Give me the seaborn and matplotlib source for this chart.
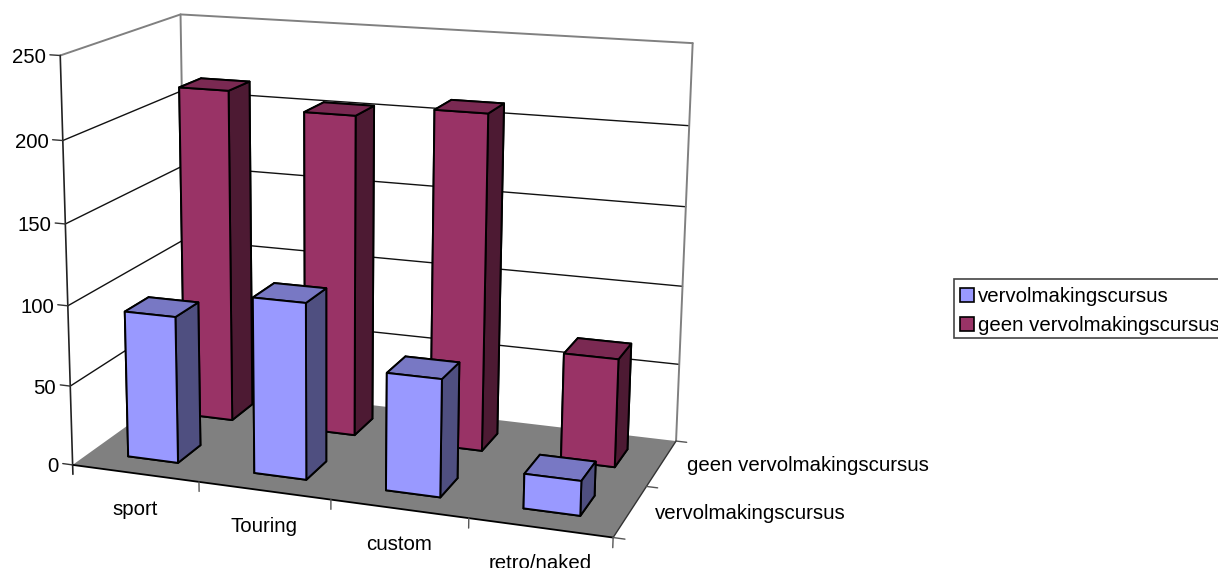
import numpy as np
import seaborn as sns
import matplotlib
matplotlib.use("Agg")
import matplotlib.pyplot as plt
from matplotlib.patches import Patch, Rectangle
from mpl_toolkits.mplot3d.art3d import Poly3DCollection

categories = ["sport", "Touring", "custom", "retro/naked"]
series_names = ["vervolmakingscursus", "geen vervolmakingscursus"]
met_cursus = [92, 109, 72, 21]
geen_cursus = [214, 204, 211, 68]
z_ticks = [0, 50, 100, 150, 200, 250]

W, H = 1218, 568

# camera of the old excel-style chart: box corners (x, y, z) -> where they sit in the picture
calib_world = [(0, 0, 0), (4, 0, 0), (4, 2, 0), (0, 2, 0), (0, 0, 250), (0, 2, 250), (4, 2, 250),
               (1, 0, 0), (2, 0, 0), (3, 0, 0), (0, 0, 100), (4, 2, 50), (4, 1, 0)]
calib_px = [(75, 465), (612, 538), (677, 441), (183, 383), (57, 55), (184, 15), (692, 43),
            (200, 482), (331, 499), (469, 518), (68, 306), (679, 364), (647, 487)]


def fit_camera(world, px):
    rows = []
    for (x, y, z), (u, v) in zip(world, px):
        z = z / 100
        rows.append([x, y, z, 1, 0, 0, 0, 0, -u * x, -u * y, -u * z, -u])
        rows.append([0, 0, 0, 0, x, y, z, 1, -v * x, -v * y, -v * z, -v])
    cam = np.linalg.svd(np.array(rows, float))[2][-1].reshape(3, 4)
    cam[:, 2] /= 100
    return cam / (cam[2] @ [2, 1, 0, 1])


CAM = fit_camera(calib_world, calib_px)


def screen(x, y, z):
    u, v, w = CAM @ [x, y, z, 1]
    return u / w, v / w


sns.set_theme(style="white")
plt.rcParams["font.family"] = ["Liberation Sans", "DejaVu Sans"]
FS = 14.7

fig = plt.figure(figsize=(W / 100, H / 100), dpi=100)
ax = fig.add_axes([0, 0, 1, 1], projection="3d")
ax.set_axis_off()
ax.patch.set_alpha(0)
ax.computed_zorder = False
ax.apply_aspect = lambda position=None: None


def get_proj():
    # picture pixels -> display -> the axes' 2d data coordinates
    du, dv, w = CAM[0], H * CAM[2] - CAM[1], CAM[2]
    a = ax.transData.inverted().get_matrix()
    return np.array([a[0, 0] * du + a[0, 1] * dv + a[0, 2] * w,
                     a[1, 0] * du + a[1, 1] * dv + a[1, 2] * w,
                     [0, 0, 0, -1],
                     w])


ax.get_proj = get_proj

# floor
floor = Poly3DCollection([[(0, 0, 0), (4, 0, 0), (4, 2, 0), (0, 2, 0)]], facecolors="#808080",
                         edgecolors="none", zorder=1)
ax.add_collection3d(floor)

# walls
GRID = "#111111"
FRAME = "#808080"
for z in z_ticks[1:]:
    c = FRAME if z == 250 else GRID
    lw = 1.4 if z == 250 else 1.0
    ax.plot([0, 0, 4], [0, 2, 2], [z, z, z], color=c, lw=lw, zorder=0.5)
ax.plot([0, 0], [2, 2], [0, 250], color=FRAME, lw=1.4, zorder=0.5)
ax.plot([4, 4], [2, 2], [0, 250], color=FRAME, lw=1.4, zorder=0.5)
ax.plot([0, 0], [0, 0], [-6, 250], color="#222222", lw=1.2, zorder=1.5)
ax.plot([0, 4], [0, 0], [0, 0], color="black", lw=1.3, zorder=1.5)
ax.plot([4, 4], [0, 2], [0, 0], color="#333333", lw=1.0, zorder=1.5)

# ticks
for z in z_ticks:
    ax.plot([-0.08, 0], [0, 0], [z, z], color="#333333", lw=1.0, zorder=1.5)
    u, v = screen(0, 0, z)
    fig.text((u - 14) / W, 1 - (v + 2) / H, str(z), ha="right", va="center", fontsize=FS, color="black")
for i in range(1, 5):
    ax.plot([i, i], [0, 0], [0, -6], color="#555555", lw=1.0, zorder=1.5)
for j in range(3):
    ax.plot([4, 4.08], [j, j], [0, 0], color="#555555", lw=1.0, zorder=1.5)

for i, name in enumerate(categories):
    u, v = screen(i + 0.5, 0, 0)
    fig.text(u / W, 1 - (v + 36) / H, name, ha="center", va="center", fontsize=FS, color="black")
for j, name in enumerate(series_names):
    u, v = screen(4, j + 0.5, 0)
    fig.text((u + 25) / W, 1 - (v + 2) / H, name, ha="left", va="center", fontsize=FS, color="black")

# bars: faces are bottom, top, front, back, left, right
pal_met = sns.color_palette(["#9999FF", "#7878C4", "#9999FF", "#9999FF", "#9999FF", "#4F4F80"])
pal_geen = sns.color_palette(["#993366", "#7A2952", "#993366", "#993366", "#993366", "#4D1A33"])
BAR_W = 0.4
for row, (vals, pal) in enumerate([(geen_cursus, pal_geen), (met_cursus, pal_met)]):
    y0 = (1 - row) + 0.3
    for i, val in enumerate(vals):
        ax.bar3d(i + 0.3, y0, 0, BAR_W, BAR_W, val, color=pal, shade=False, edgecolor="black",
                 linewidth=1.4, zorder=2 + row * 10 + i)

# legend frame runs off the right side of the picture
fig.add_artist(Rectangle((954 / W, 1 - 338 / H), 300 / W, 59 / H, transform=fig.transFigure,
                         facecolor="white", edgecolor="#444444", linewidth=1.2))
handles = [Patch(facecolor=pal_met[0], edgecolor="black", linewidth=1.2),
           Patch(facecolor=pal_geen[0], edgecolor="black", linewidth=1.2)]
leg = fig.legend(handles, series_names, loc="upper left", bbox_to_anchor=(954 / W, 1 - 281 / H),
                 borderaxespad=0, fontsize=FS, frameon=False, labelcolor="black",
                 handlelength=0.68, handleheight=0.68, handletextpad=0.2, labelspacing=0.47, borderpad=0.3)

fig.savefig("out.png", dpi=100)
